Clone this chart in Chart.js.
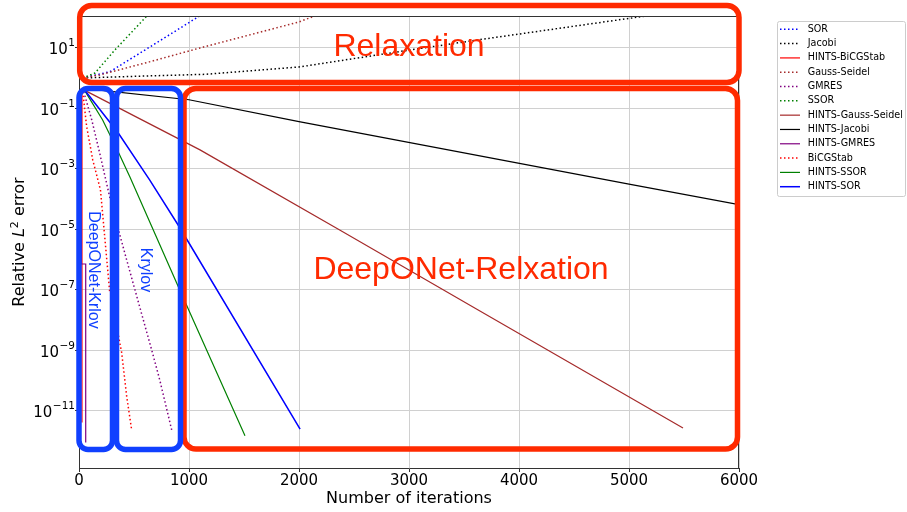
<!DOCTYPE html>
<html>
<head>
<meta charset="utf-8">
<script src="https://cdn.jsdelivr.net/npm/chart.js@4.4.1/dist/chart.umd.min.js"></script>
<style>
  html, body { margin: 0; padding: 0; background: #fff; }
  #wrap { width: 907px; height: 512px; }
</style>
</head>
<body>
<div id="wrap"><canvas id="chart" width="907" height="512"></canvas></div>
<script>
// axis ticks
const xTicks = [0, 1000, 2000, 3000, 4000, 5000, 6000];
const yTickExps = [-11, -9, -7, -5, -3, -1, 1];

// classic relaxation methods (diverging)
const sorIter = [34, 280, 643, 1110];
const sorErr = [1.0, 1.6, 10.5, 120];
const jacobiIter = [34, 650, 1150, 2000, 3000, 3650, 5200];
const jacobiErr = [1.0, 1.17, 1.32, 2.3, 8.3, 18.6, 118];
const gsIter = [34, 190, 640, 1100, 2000, 2160];
const gsErr = [1.0, 1.26, 3.4, 9.8, 71, 118];
const ssorIter = [34, 145, 325, 625];
const ssorErr = [1.0, 1.45, 8.3, 120];

// krylov methods
const gmresIter = [43, 116, 188, 279, 352, 434, 552, 661, 734, 843];
const gmresErr = [0.35, 0.041, 3.3e-3, 1.17e-4, 1.17e-5, 9.5e-7, 2.7e-8, 1.02e-9, 1.05e-10, 2.3e-12];
const bicgIter = [34, 70, 97, 125, 160, 195, 215, 245, 279, 315, 352, 388, 434, 479];
const bicgErr = [0.35, 0.024, 7.1e-3, 1.95e-3, 6.3e-4, 2.0e-4, 3.2e-5, 2.0e-6, 8.5e-8, null, 4.1e-9, 8.3e-10, 2.9e-11, 2.3e-12];

// HINTS hybrids
const hBicgIter = [27, 27];
const hBicgErr = [0.42, 4.1e-12];
const hGsIter = [35, 1100, 2370, 3625, 5491];
const hGsErr = [0.42, 4.2e-3, 9.5e-6, 2.2e-8, 2.7e-12];
const hJacobiIter = [36, 1000, 2000, 5000, 6000];
const hJacobiErr = [0.45, 0.19, 0.036, 3.1e-4, 6.5e-5];
const hGmresIter = [22, 22, 61, 61];
const hGmresErr = [0.45, 7.1e-7, 7.1e-7, 8.9e-13];
const hSsorIter = [45, 215, 357, 462, 915, 1509];
const hSsorErr = [0.42, 0.041, 3.6e-3, 5.4e-4, 1.0e-7, 1.5e-12];
const hSorIter = [40, 357, 642, 917, 2010];
const hSorErr = [0.45, 0.0151, 4.3e-4, 1.12e-5, 2.5e-12];

// label, x, y, colour, dotted
const series = [
  ['SOR', sorIter, sorErr, '#0000ff', true],
  ['Jacobi', jacobiIter, jacobiErr, '#000000', true],
  ['HINTS-BiCGStab', hBicgIter, hBicgErr, '#ff0000', false],
  ['Gauss-Seidel', gsIter, gsErr, '#a52a2a', true],
  ['GMRES', gmresIter, gmresErr, '#800080', true],
  ['SSOR', ssorIter, ssorErr, '#008000', true],
  ['HINTS-Gauss-Seidel', hGsIter, hGsErr, '#a52a2a', false],
  ['HINTS-Jacobi', hJacobiIter, hJacobiErr, '#000000', false],
  ['HINTS-GMRES', hGmresIter, hGmresErr, '#800080', false],
  ['BiCGStab', bicgIter, bicgErr, '#ff0000', true],
  ['HINTS-SSOR', hSsorIter, hSsorErr, '#008000', false],
  ['HINTS-SOR', hSorIter, hSorErr, '#0000ff', false]
];

const RED = '#ff2a00';
const BLUE = '#1040ff';
const AX_FONT = 'DejaVu Sans';
const BOX_FONT = '"Liberation Sans", Arial, sans-serif';

function rrect(ctx, x, y, w, h, r) {
  ctx.beginPath();
  ctx.moveTo(x + r, y);
  ctx.lineTo(x + w - r, y);
  ctx.arcTo(x + w, y, x + w, y + r, r);
  ctx.lineTo(x + w, y + h - r);
  ctx.arcTo(x + w, y + h, x + w - r, y + h, r);
  ctx.lineTo(x + r, y + h);
  ctx.arcTo(x, y + h, x, y + h - r, r);
  ctx.lineTo(x, y + r);
  ctx.arcTo(x, y, x + r, y, r);
  ctx.closePath();
}

const overlay = {
  id: 'overlay',
  afterDraw(chart) {
    const ctx = chart.ctx;
    const a = chart.chartArea;
    const ys = chart.scales.y;
    ctx.save();

    // top and right spines
    ctx.strokeStyle = '#333';
    ctx.lineWidth = 1;
    ctx.beginPath();
    ctx.moveTo(a.left, Math.round(a.top) + 0.5);
    ctx.lineTo(a.right, Math.round(a.top) + 0.5);
    ctx.moveTo(Math.round(a.right) - 0.5, a.top);
    ctx.lineTo(Math.round(a.right) - 0.5, a.bottom);
    ctx.stroke();

    // y tick labels 10^n
    ctx.fillStyle = '#000';
    ctx.textAlign = 'right';
    ctx.textBaseline = 'alphabetic';
    yTickExps.forEach(e => {
      const y = ys.getPixelForValue(Math.pow(10, e));
      const ex = String(e).replace('-', '\u2212');
      ctx.font = '10.5px ' + AX_FONT;
      const ew = ctx.measureText(ex).width;
      ctx.fillText(ex, 75, y - 1.5);
      ctx.font = '15px ' + AX_FONT;
      ctx.fillText('10', 75 - ew - 0.5, y + 6.5);
    });

    // y axis title: Relative L^2 error
    const parts = [
      ['Relative ', '16px ' + AX_FONT, 0],
      ['L', 'italic 16px ' + AX_FONT, 0],
      ['2', '11px ' + AX_FONT, -6],
      [' error', '16px ' + AX_FONT, 0]
    ];
    let w = 0;
    parts.forEach(p => { ctx.font = p[1]; w += ctx.measureText(p[0]).width; });
    ctx.translate(23.5, (a.top + a.bottom) / 2);
    ctx.rotate(-Math.PI / 2);
    ctx.textAlign = 'left';
    let px = -w / 2;
    parts.forEach(p => { ctx.font = p[1]; ctx.fillText(p[0], px, p[2]); px += ctx.measureText(p[0]).width; });
    ctx.setTransform(1, 0, 0, 1, 0, 0);

    // region boxes
    ctx.lineWidth = 5.5;
    ctx.strokeStyle = RED;
    rrect(ctx, 79.7, 5.5, 659.3, 77, 12); ctx.stroke();
    rrect(ctx, 184, 88.5, 553.5, 360.5, 12); ctx.stroke();
    ctx.strokeStyle = BLUE;
    rrect(ctx, 79, 88.5, 33.5, 361, 9); ctx.stroke();
    rrect(ctx, 116.5, 88.5, 64, 361, 9); ctx.stroke();

    // region labels
    ctx.fillStyle = RED;
    ctx.font = '32px ' + BOX_FONT;
    ctx.textAlign = 'center';
    ctx.fillText('Relaxation', 409, 56);
    ctx.fillText('DeepONet-Relxation', 461, 278.5);

    ctx.fillStyle = BLUE;
    ctx.font = '16px ' + BOX_FONT;
    ctx.save();
    ctx.translate(88.5, 270);
    ctx.rotate(Math.PI / 2);
    ctx.fillText('DeepONet-Krlov', 0, 0);
    ctx.restore();
    ctx.save();
    ctx.translate(141, 270);
    ctx.rotate(Math.PI / 2);
    ctx.fillText('Krylov', 0, 0);
    ctx.restore();

    // legend
    ctx.setLineDash([]);
    ctx.lineWidth = 1;
    ctx.strokeStyle = '#cccccc';
    ctx.fillStyle = '#ffffff';
    rrect(ctx, 777.5, 21.5, 128, 175, 2);
    ctx.fill();
    ctx.stroke();
    ctx.font = '9.6px ' + AX_FONT;
    ctx.textAlign = 'left';
    ctx.textBaseline = 'middle';
    chart.data.datasets.forEach((ds, i) => {
      const y = 29.3 + i * 14.31;
      ctx.strokeStyle = ds.borderColor;
      ctx.lineWidth = ds.borderWidth;
      ctx.setLineDash(ds.borderDash);
      ctx.beginPath();
      ctx.moveTo(780, y);
      ctx.lineTo(800, y);
      ctx.stroke();
      ctx.setLineDash([]);
      ctx.fillStyle = '#000';
      ctx.fillText(ds.label, 807.7, y);
    });
    ctx.restore();
  }
};

const datasets = series.map(([label, xs, ys, color, dotted], i) => ({
  label: label,
  data: xs.map((x, k) => ({ x: x, y: ys[k] })),
  borderColor: color,
  backgroundColor: color,
  borderWidth: dotted ? 1.5 : (label === 'HINTS-SOR' ? 1.5 : 1.2),
  borderDash: dotted ? [1.5, 2.5] : [],
  pointRadius: 0,
  tension: 0,
  fill: false,
  spanGaps: false,
  order: -i
}));

new Chart(document.getElementById('chart').getContext('2d'), {
  type: 'line',
  data: { datasets: datasets },
  options: {
    responsive: false,
    devicePixelRatio: 1,
    animation: false,
    events: [],
    layout: { padding: { left: 0, right: 168, top: 16, bottom: 0 } },
    plugins: { legend: { display: false }, tooltip: { enabled: false } },
    scales: {
      x: {
        type: 'linear',
        min: 0,
        max: 6000,
        afterBuildTicks: s => { s.ticks = xTicks.map(v => ({ value: v })); },
        afterFit: s => { s.height = 44; },
        ticks: { callback: v => String(v), font: { family: AX_FONT, size: 15 }, color: '#000', padding: 0, maxRotation: 0 },
        grid: { color: '#d0d0d0', lineWidth: 1, tickLength: 4, tickColor: '#333' },
        border: { display: true, color: '#333', width: 1 },
        title: { display: true, text: 'Number of iterations', color: '#000',
          font: { family: AX_FONT, size: 16 }, padding: { top: 0, bottom: 4 } }
      },
      y: {
        type: 'logarithmic',
        min: Math.pow(10, -12.89),
        max: Math.pow(10, 2.047),
        afterBuildTicks: s => { s.ticks = yTickExps.map(e => ({ value: Math.pow(10, e) })); },
        afterFit: s => { s.width = 79; },
        ticks: { display: false },
        grid: { color: '#d0d0d0', lineWidth: 1, tickLength: 4, tickColor: '#333' },
        border: { display: true, color: '#333', width: 1 }
      }
    }
  },
  plugins: [overlay]
});
</script>
</body>
</html>
